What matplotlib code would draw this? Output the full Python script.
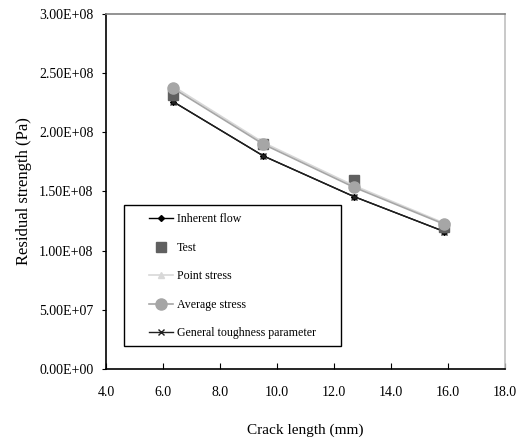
import matplotlib
matplotlib.use("Agg")
import matplotlib.pyplot as plt
from matplotlib.patches import Rectangle

plt.rcParams['font.family'] = ['Liberation Serif', 'DejaVu Serif']

crack_length = [6.35, 9.525, 12.7, 15.875]
inherent_flow = [2.26e8, 1.80e8, 1.457e8, 1.161e8]
test = [2.316e8, 1.905e8, 1.60e8, 1.20e8]
point_stress = [2.39e8, 1.913e8, 1.55e8, 1.232e8]
average_stress = [2.373e8, 1.899e8, 1.536e8, 1.223e8]
general_toughness = [2.26e8, 1.80e8, 1.457e8, 1.161e8]

x_ticks = [4.0, 6.0, 8.0, 10.0, 12.0, 14.0, 16.0, 18.0]
y_ticks = [0, 5e7, 1e8, 1.5e8, 2e8, 2.5e8, 3e8]
y_tick_labels = ["0.00E+00", "5.00E+07", "1.00E+08", "1.50E+08", "2.00E+08", "2.50E+08", "3.00E+08"]

fig = plt.figure(figsize=(5.22, 4.40), dpi=100)
ax = fig.add_axes([0.203, 0.1614, 0.7644, 0.8068])

ax.plot(crack_length, inherent_flow, color='black', lw=1.0, marker='D', ms=3,
        label='Inherent flow', zorder=3)
ax.plot(crack_length, test, color='#606060', lw=0, marker='s', ms=7,
        label='Test', zorder=4)
ax.plot(crack_length, average_stress, color='#a6a6a6', lw=1.2, marker='o', ms=8,
        label='Average stress', zorder=5)
ax.plot(crack_length, point_stress, color='#d8d8d8', lw=1.2, marker='^', ms=5,
        label='Point stress', zorder=4)
ax.plot(crack_length, general_toughness, color='#202020', lw=1.0, marker='x', ms=5,
        mew=1.0, label='General toughness parameter', zorder=3)

ax.set_xlim(4.0, 18.0)
ax.set_ylim(0, 3e8)
ax.set_xticks(x_ticks)
ax.set_xticklabels([f"{v:.1f}" for v in x_ticks])
ax.set_yticks(y_ticks)
ax.set_yticklabels(y_tick_labels)
ax.tick_params(axis='x', direction='in', length=4, labelsize=10, pad=12, color='black')
ax.tick_params(axis='y', direction='out', length=3, labelsize=10, pad=6, color='black')

for s in ['left', 'bottom']:
    ax.spines[s].set_color('black')
    ax.spines[s].set_linewidth(1.2)
ax.spines['top'].set_color('#808080')
ax.spines['right'].set_color('#c0c0c0')
ax.spines['top'].set_linewidth(1.2)
ax.spines['right'].set_linewidth(1.2)

ax.set_xlabel('Crack length (mm)', fontsize=11, labelpad=18)
ax.set_ylabel('Residual strength (Pa)', fontsize=12, labelpad=5)

# legend box frame
ax.add_patch(Rectangle((0.0451, 0.0648), 0.5439, 0.397, transform=ax.transAxes,
                       facecolor='white', edgecolor='black', lw=1.0, zorder=6))

handles, labels = ax.get_legend_handles_labels()
order = [0, 1, 3, 2, 4]
leg = ax.legend([handles[i] for i in order], [labels[i] for i in order],
                loc='upper left', bbox_to_anchor=(0.1078, 0.438),
                fontsize=8.6, frameon=False, borderpad=0, labelspacing=1.38,
                handlelength=2.0, handletextpad=0.33, borderaxespad=0)
leg.set_zorder(7)

fig.savefig('out.png', dpi=100)
